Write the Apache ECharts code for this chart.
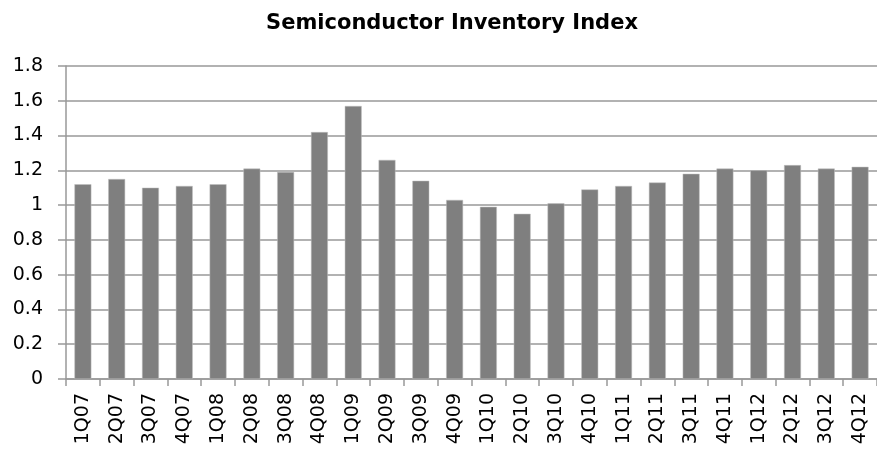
<!DOCTYPE html>
<html><head><meta charset="utf-8">
<script src="https://cdn.jsdelivr.net/npm/echarts@6/dist/echarts.min.js"></script>
<style>html,body{margin:0;padding:0;background:#fff}#c{width:877px;height:454px}</style>
</head><body><div id="c"></div>
<script>
const title = "Semiconductor Inventory Index";
const categories = ["1Q07","2Q07","3Q07","4Q07","1Q08","2Q08","3Q08","4Q08","1Q09","2Q09","3Q09","4Q09","1Q10","2Q10","3Q10","4Q10","1Q11","2Q11","3Q11","4Q11","1Q12","2Q12","3Q12","4Q12"];
const values = [1.12,1.15,1.10,1.11,1.12,1.21,1.19,1.42,1.57,1.26,1.14,1.03,0.99,0.95,1.01,1.09,1.11,1.13,1.18,1.21,1.20,1.23,1.21,1.22];
const yMin = 0, yMax = 1.8, yStep = 0.2;

const chart = echarts.init(document.getElementById('c'), null, {renderer:'canvas'});
const font = "'DejaVu Sans', sans-serif";
chart.setOption({
  animation:false,
  title:{text:title,left:447,textAlign:'center',top:8,textStyle:{fontFamily:font,fontSize:21,fontWeight:'bold',color:'#000'}},
  grid:{left:66,right:0,top:66,bottom:75,containLabel:false},
  xAxis:{type:'category',data:categories,
    axisLine:{lineStyle:{color:'#999',width:1.5}},
    axisTick:{show:true,alignWithLabel:false,length:7,lineStyle:{color:'#999',width:1.5}},
    axisLabel:{rotate:90,interval:0,margin:14,color:'#000',fontFamily:font,fontSize:19}},
  yAxis:{type:'value',min:yMin,max:yMax,interval:yStep,
    axisLine:{show:true,lineStyle:{color:'#999',width:1.5}},
    axisTick:{show:true,length:8,lineStyle:{color:'#999',width:1.5}},
    splitLine:{lineStyle:{color:'#999',width:1.5}},
    axisLabel:{margin:23,color:'#000',fontFamily:font,fontSize:19,
      formatter:v=>String(Math.round(v*10)/10)}},
  series:[{type:'bar',data:values,barWidth:'50%',
    itemStyle:{color:'#7f7f7f',borderColor:'#bfbfbf',borderWidth:0.5}}]
});
</script></body></html>
